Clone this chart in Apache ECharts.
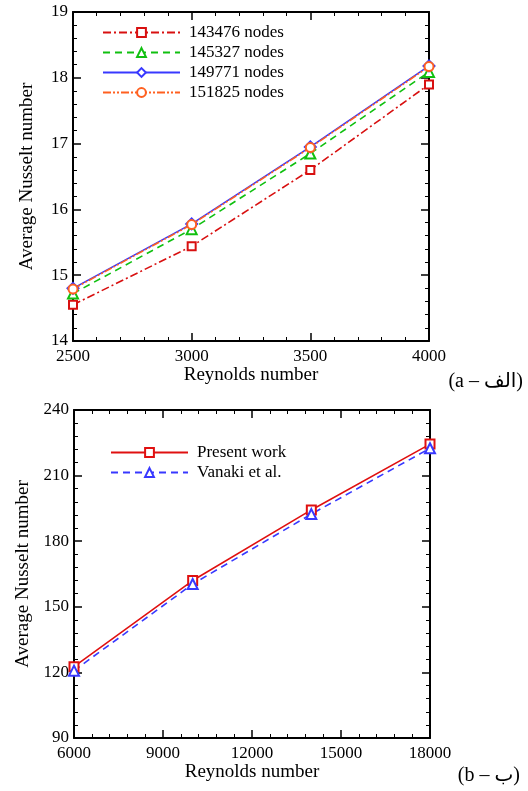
<!DOCTYPE html>
<html lang="en">
<head>
    <meta charset="UTF-8">
    <title>Average Nusselt number</title>
    <script type="text/javascript" src="https://cdn.jsdelivr.net/npm/echarts@6/dist/echarts.min.js"></script>
    <style>
        html, body {
            width: 100%;
            height: 100%;
            margin: 0;
            padding: 0;
            background: #fff;
        }
        #main {
            width: 528px;
            height: 791px;
        }
    </style>
</head>
<body>
    <div id="main"></div>
    <script>
        // data
        var reA = [2500, 3000, 3500, 4000];
        var nodes143476 = [14.55, 15.44, 16.60, 17.90];
        var nodes145327 = [14.72, 15.70, 16.85, 18.09];
        var nodes149771 = [14.80, 15.78, 16.95, 18.18];
        var nodes151825 = [14.79, 15.77, 16.94, 18.17];

        var reB = [6000, 10000, 14000, 18000];
        var presentWork = [122.6, 162.0, 194.3, 224.4];
        var vanaki = [120.8, 160.4, 192.4, 222.5];

        var namesA = ['143476 nodes', '145327 nodes', '149771 nodes', '151825 nodes'];
        var namesB = ['Present work', 'Vanaki et al.'];

        var FONT = '"Liberation Serif", "Times New Roman", serif';

        function pairs(xs, ys) {
            return xs.map(function (x, i) { return [x, ys[i]]; });
        }

        // one axis of the box frame; labelled or mirror
        function axis(opt) {
            var a = {
                gridIndex: opt.grid,
                type: 'value',
                position: opt.position,
                min: opt.min,
                max: opt.max,
                interval: opt.interval,
                axisLine: { show: true, onZero: false, lineStyle: { color: '#000', width: 2 } },
                axisTick: { show: true, inside: true, length: 8, lineStyle: { color: '#000', width: 1.5 } },
                minorTick: { show: true, splitNumber: 5, length: 4, lineStyle: { color: '#000', width: 1 } },
                splitLine: { show: false },
                axisLabel: {
                    show: !opt.mirror,
                    margin: opt.margin || 5,
                    color: '#000',
                    fontFamily: FONT,
                    fontSize: 17,
                    formatter: function (v) { return String(v); }
                }
            };
            if (opt.name) {
                a.name = opt.name;
                a.nameLocation = 'middle';
                a.nameGap = opt.nameGap;
                a.nameTextStyle = { color: '#000', fontFamily: FONT, fontSize: 19 };
            }
            return a;
        }

        function line(name, xs, ys, axisIdx, color, dash, symbol, size) {
            return {
                name: name,
                type: 'line',
                xAxisIndex: axisIdx,
                yAxisIndex: axisIdx,
                data: pairs(xs, ys),
                symbol: symbol,
                symbolSize: size,
                showAllSymbol: true,
                color: color,
                lineStyle: { color: color, width: 1.6, type: dash },
                itemStyle: { color: color, borderColor: color, borderWidth: 1.2 },
                z: 3
            };
        }

        var legendCommon = {
            orient: 'vertical',
            itemWidth: 77,
            itemHeight: 11,
            itemGap: 3,
            selectedMode: false,
            textStyle: { color: '#000', fontFamily: FONT, fontSize: 17, lineHeight: 17, padding: [0, 0, 0, 4] }
        };

        var myChart = echarts.init(document.getElementById('main'));

        var option = {
            backgroundColor: '#fff',
            animation: false,
            grid: [
                { left: 73, top: 12, width: 356, height: 329 },
                { left: 74, top: 410, width: 356, height: 328 }
            ],
            xAxis: [
                axis({ grid: 0, position: 'bottom', min: 2500, max: 4000, interval: 500, margin: 7, name: 'Reynolds number', nameGap: 20 }),
                axis({ grid: 1, position: 'bottom', min: 6000, max: 18000, interval: 3000, margin: 7, name: 'Reynolds number', nameGap: 20 }),
                axis({ grid: 0, position: 'top', min: 2500, max: 4000, interval: 500, mirror: true }),
                axis({ grid: 1, position: 'top', min: 6000, max: 18000, interval: 3000, mirror: true })
            ],
            yAxis: [
                axis({ grid: 0, position: 'left', min: 14, max: 19, interval: 1, name: 'Average Nusselt number', nameGap: 36 }),
                axis({ grid: 1, position: 'left', min: 90, max: 240, interval: 30, name: 'Average Nusselt number', nameGap: 37 }),
                axis({ grid: 0, position: 'right', min: 14, max: 19, interval: 1, mirror: true }),
                axis({ grid: 1, position: 'right', min: 90, max: 240, interval: 30, mirror: true })
            ],
            legend: [
                Object.assign({}, legendCommon, { data: namesA, left: 97, top: 19 }),
                Object.assign({}, legendCommon, { data: namesB, left: 105, top: 439 })
            ],
            series: [
                line(namesA[0], reA, nodes143476, 0, '#d81010', [8, 3, 2, 3], 'emptyRect', 8),
                line(namesA[1], reA, nodes145327, 0, '#10c010', [7, 5], 'emptyTriangle', 10),
                line(namesA[2], reA, nodes149771, 0, '#3838ff', 'solid', 'emptyDiamond', 11),
                line(namesA[3], reA, nodes151825, 0, '#ff6020', [8, 2, 2, 2, 2, 2], 'emptyCircle', 9),
                line(namesB[0], reB, presentWork, 1, '#e01010', 'solid', 'emptyRect', 9),
                line(namesB[1], reB, vanaki, 1, '#3838ff', [7, 5], 'emptyTriangle', 10)
            ],
            graphic: [
                {
                    type: 'text', right: 5, top: 372,
                    style: { text: '(a \u2013 \u0627\u0644\u0641)', fill: '#000', font: '20px "Liberation Serif", "DejaVu Sans", serif' }
                },
                {
                    type: 'text', right: 8, top: 766,
                    style: { text: '(b \u2013 \u0628)', fill: '#000', font: '20px "Liberation Serif", "DejaVu Sans", serif' }
                }
            ]
        };
        myChart.setOption(option);

        window.addEventListener('resize', function () {
            myChart.resize();
        });
    </script>
</body>
</html>
